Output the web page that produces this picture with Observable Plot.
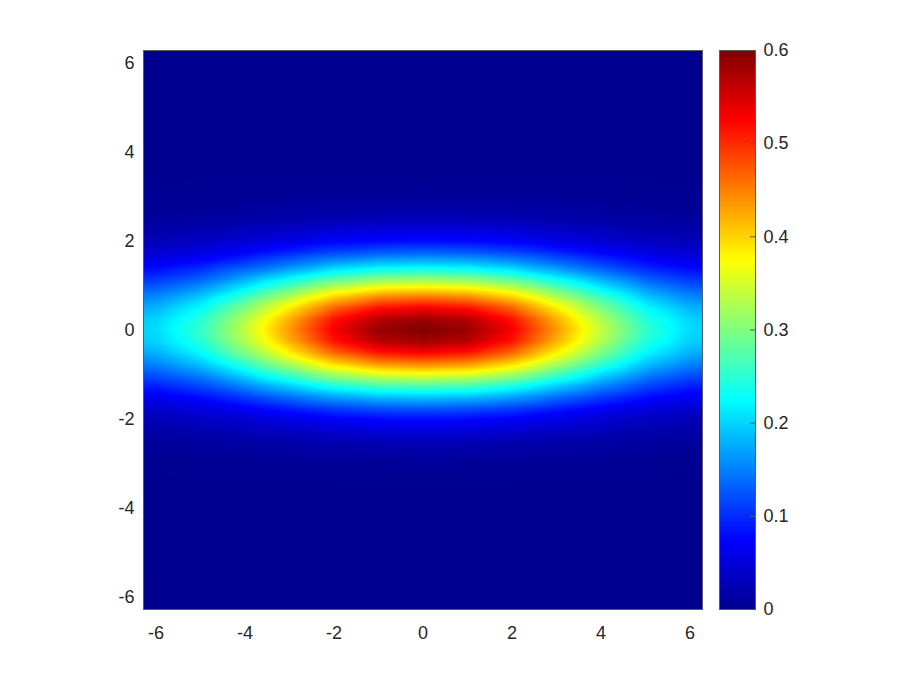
<!DOCTYPE html>
<html>
<head>
<meta charset="utf-8">
<script src="https://cdn.jsdelivr.net/npm/d3@7"></script>
<script src="https://cdn.jsdelivr.net/npm/@observablehq/plot@0.6"></script>
<style>
  html, body { margin: 0; padding: 0; background: #fff; }
  #wrap { position: relative; width: 913px; height: 685px; overflow: hidden; background: #fff; }
  #wrap > svg, #wrap > div { position: absolute; top: 0; }
</style>
</head>
<body>
<div id="wrap"></div>
<script>
// Grid sample positions
const xs = [-6.28, -6, -5, -4, -3, -2, -1, 0, 1, 2, 3, 4, 5, 6, 6.28];
const ys = [-6.28, -4, -3.5, -3, -2.5, -2, -1.75, -1.5, -1.25, -1, -0.75, -0.5, -0.25, 0,
            0.25, 0.5, 0.75, 1, 1.25, 1.5, 1.75, 2, 2.5, 3, 3.5, 4, 6.28];
// Field values, one row per ys entry, one column per xs entry
const values = [
  [0,0,0,0,0,0,0,0,0,0,0,0,0,0,0],
  [0,0,0,0,0,0,0,0,0,0,0,0,0,0,0],
  [0,0,0.001,0.001,0.001,0.001,0.001,0.001,0.001,0.001,0.001,0.001,0.001,0,0],
  [0.002,0.002,0.003,0.004,0.005,0.006,0.006,0.007,0.006,0.006,0.005,0.004,0.003,0.002,0.002],
  [0.009,0.009,0.011,0.015,0.019,0.023,0.026,0.026,0.026,0.023,0.019,0.015,0.011,0.009,0.009],
  [0.027,0.028,0.034,0.046,0.059,0.072,0.079,0.081,0.079,0.072,0.059,0.046,0.034,0.028,0.027],
  [0.043,0.044,0.055,0.073,0.094,0.114,0.126,0.130,0.126,0.114,0.094,0.073,0.055,0.044,0.043],
  [0.065,0.067,0.083,0.111,0.141,0.172,0.190,0.195,0.190,0.172,0.141,0.111,0.083,0.067,0.065],
  [0.092,0.094,0.117,0.156,0.199,0.243,0.268,0.275,0.268,0.243,0.199,0.156,0.117,0.094,0.092],
  [0.121,0.124,0.155,0.206,0.264,0.322,0.355,0.364,0.355,0.322,0.264,0.206,0.155,0.124,0.121],
  [0.151,0.155,0.193,0.257,0.328,0.400,0.442,0.453,0.442,0.400,0.328,0.257,0.193,0.155,0.151],
  [0.176,0.181,0.225,0.300,0.384,0.467,0.516,0.529,0.516,0.467,0.384,0.300,0.225,0.181,0.176],
  [0.194,0.199,0.247,0.329,0.422,0.514,0.567,0.581,0.567,0.514,0.422,0.329,0.247,0.199,0.194],
  [0.200,0.205,0.255,0.340,0.435,0.530,0.585,0.600,0.585,0.530,0.435,0.340,0.255,0.205,0.200],
  [0.194,0.199,0.247,0.329,0.422,0.514,0.567,0.581,0.567,0.514,0.422,0.329,0.247,0.199,0.194],
  [0.176,0.181,0.225,0.300,0.384,0.467,0.516,0.529,0.516,0.467,0.384,0.300,0.225,0.181,0.176],
  [0.151,0.155,0.193,0.257,0.328,0.400,0.442,0.453,0.442,0.400,0.328,0.257,0.193,0.155,0.151],
  [0.121,0.124,0.155,0.206,0.264,0.322,0.355,0.364,0.355,0.322,0.264,0.206,0.155,0.124,0.121],
  [0.092,0.094,0.117,0.156,0.199,0.243,0.268,0.275,0.268,0.243,0.199,0.156,0.117,0.094,0.092],
  [0.065,0.067,0.083,0.111,0.141,0.172,0.190,0.195,0.190,0.172,0.141,0.111,0.083,0.067,0.065],
  [0.043,0.044,0.055,0.073,0.094,0.114,0.126,0.130,0.126,0.114,0.094,0.073,0.055,0.044,0.043],
  [0.027,0.028,0.034,0.046,0.059,0.072,0.079,0.081,0.079,0.072,0.059,0.046,0.034,0.028,0.027],
  [0.009,0.009,0.011,0.015,0.019,0.023,0.026,0.026,0.026,0.023,0.019,0.015,0.011,0.009,0.009],
  [0.002,0.002,0.003,0.004,0.005,0.006,0.006,0.007,0.006,0.006,0.005,0.004,0.003,0.002,0.002],
  [0,0,0.001,0.001,0.001,0.001,0.001,0.001,0.001,0.001,0.001,0.001,0.001,0,0],
  [0,0,0,0,0,0,0,0,0,0,0,0,0,0,0],
  [0,0,0,0,0,0,0,0,0,0,0,0,0,0,0]
];
const axisTicks = [-6, -4, -2, 0, 2, 4, 6];
const colorTicks = [0, 0.1, 0.2, 0.3, 0.4, 0.5, 0.6];
const jetStops = [0, 0.075, 0.225, 0.375, 0.525, 0.6];
const jetColors = ["#00008f", "#0000ff", "#00ffff", "#ffff00", "#ff0000", "#800000"];

const table = [];
ys.forEach((y, j) => xs.forEach((x, i) => table.push({x, y, v: values[j][i]})));

const lim = 2 * Math.PI;
const font = "'Liberation Sans', Arial, Helvetica, sans-serif";
const textColor = "#262626";
const frameColor = "#5a5a5a";
const colorScale = {type: "linear", domain: jetStops, range: jetColors, interpolate: "rgb", clamp: true};
const plainFmt = d => String(d);

const main = Plot.plot({
  width: 720, height: 685,
  marginLeft: 143, marginRight: 18, marginTop: 50, marginBottom: 76,
  style: {fontFamily: font, fontSize: "18px", color: textColor, background: "transparent"},
  x: {domain: [-lim, lim], ticks: axisTicks, tickFormat: plainFmt, tickSize: 0, tickPadding: 17, label: null},
  y: {domain: [-lim, lim], ticks: axisTicks, tickFormat: plainFmt, tickSize: 0, tickPadding: 9, label: null},
  color: colorScale,
  marks: [
    Plot.raster(table, {x: "x", y: "y", fill: "v", interpolate: "barycentric", pixelSize: 1,
                        x1: -lim, x2: lim, y1: -lim, y2: lim}),
    Plot.frame({stroke: frameColor, strokeWidth: 1})
  ]
});
main.style.left = "0px";

const bar = Plot.plot({
  width: 194, height: 685,
  marginLeft: 0, marginRight: 158, marginTop: 50, marginBottom: 76,
  style: {fontFamily: font, fontSize: "18px", color: textColor, background: "transparent"},
  x: {domain: [0, 1], axis: null},
  y: {domain: [0, 0.6], ticks: colorTicks, tickFormat: d => String(+d.toFixed(1)), axis: "right",
      tickSize: 0, tickPadding: 8, label: null},
  color: colorScale,
  marks: [
    Plot.raster({fill: (x, y) => y, x1: 0, x2: 1, y1: 0, y2: 0.6, pixelSize: 1}),
    Plot.ruleY(colorTicks.slice(1, -1), {x1: 0.86, x2: 1, stroke: frameColor, strokeWidth: 1}),
    Plot.frame({stroke: frameColor, strokeWidth: 1})
  ]
});
bar.style.left = "719px";

const wrap = document.getElementById("wrap");
wrap.appendChild(main);
wrap.appendChild(bar);
</script>
</body>
</html>
